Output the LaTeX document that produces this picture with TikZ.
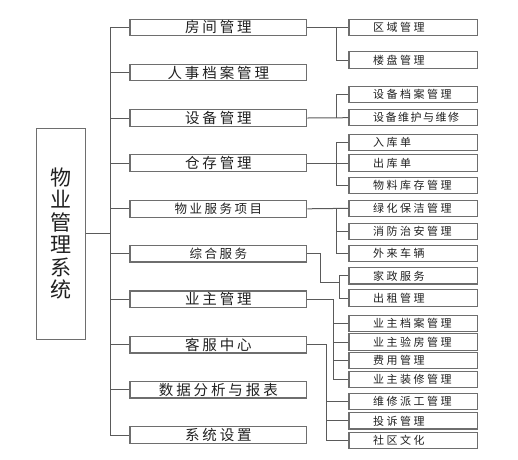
\documentclass[tikz,border=0pt]{standalone}
\usepackage{fontspec}
\newfontfamily\cjkbig[LetterSpace=20]{Noto Sans CJK SC}
\newfontfamily\cjksm[LetterSpace=20]{Noto Sans CJK SC}
\newfontfamily\cjkrt[LetterSpace=23]{Noto Sans CJK SC}
\newfontfamily\cjkrtn[LetterSpace=14]{Noto Sans CJK SC}
\newfontfamily\cjkroot{Noto Sans CJK SC}
\definecolor{boxc}{HTML}{6E6E6E}
\definecolor{linec}{HTML}{5A5A5A}
\definecolor{txt}{HTML}{202020}
\begin{document}
\begin{tikzpicture}[x=1pt,y=-1pt,
  conn/.style={draw=linec, line width=1pt},
  rootbox/.style={draw=boxc, line width=1.1pt, minimum width=49.5pt, minimum height=211pt, inner sep=0pt, align=center, text=txt, font=\cjkroot\fontsize{21}{22.5}\selectfont},
  midbox/.style={draw=boxc, line width=1.1pt, minimum width=176.7pt, minimum height=16.5pt, inner sep=0pt, text=txt, font=\cjkbig\fontsize{14.5}{15}\selectfont},
  midsmall/.style={midbox, font=\cjksm\fontsize{12.5}{13}\selectfont},
  rtbox/.style={draw=boxc, line width=1.1pt, minimum height=16.3pt, inner sep=0pt, text width=128.5pt, align=left, text=txt, font=\cjkrt\fontsize{11}{12}\selectfont},
  rtnarrow/.style={rtbox, font=\cjkrtn\fontsize{11}{12}\selectfont}
]
\useasboundingbox (0,0) rectangle (518,459);

% root
\node[rootbox] (root) at (61,233.7) {物\\业\\管\\理\\系\\统};

% middle column
\node[midbox]   (m1)  at (218.35,27.3)  {房间管理};
\node[midbox]   (m2)  at (218.35,72.5)  {人事档案管理};
\node[midbox]   (m3)  at (218.35,118)   {设备管理};
\node[midbox]   (m4)  at (218.35,163)   {仓存管理};
\node[midsmall] (m5)  at (218.35,208.8) {物业服务项目};
\node[midsmall] (m6)  at (218.35,253.7) {综合服务};
\node[midbox]   (m7)  at (218.35,299.2) {业主管理};
\node[midbox]   (m8)  at (218.35,344.7) {客服中心};
\node[midbox]   (m9)  at (218.35,389.7) {数据分析与报表};
\node[midbox]   (m10) at (218.35,435)   {系统设置};

% right column
\node[rtbox] (r1)  at (413.25,27.3)  {\hspace*{24pt}区域管理};
\node[rtbox] (r2)  at (413.25,60)    {\hspace*{24pt}楼盘管理};
\node[rtbox] (r3)  at (413.25,94.7)  {\hspace*{24pt}设备档案管理};
\node[rtnarrow] (r4)  at (413.25,117.7) {\hspace*{24pt}设备维护与维修};
\node[rtbox] (r5)  at (413.25,142.5) {\hspace*{24pt}入库单};
\node[rtbox] (r6)  at (413.25,163)   {\hspace*{24pt}出库单};
\node[rtbox] (r7)  at (413.25,185.7) {\hspace*{24pt}物料库存管理};
\node[rtbox] (r8)  at (413.25,208.3) {\hspace*{24pt}绿化保洁管理};
\node[rtbox] (r9)  at (413.25,231.5) {\hspace*{24pt}消防治安管理};
\node[rtbox] (r10) at (413.25,253.3) {\hspace*{24pt}外来车辆};
\node[rtbox] (r11) at (413.25,275.8) {\hspace*{24pt}家政服务};
\node[rtbox] (r12) at (413.25,298)   {\hspace*{24pt}出租管理};
\node[rtbox] (r13) at (413.25,323.4) {\hspace*{24pt}业主档案管理};
\node[rtbox] (r14) at (413.25,342)   {\hspace*{24pt}业主验房管理};
\node[rtbox] (r15) at (413.25,360.6) {\hspace*{24pt}费用管理};
\node[rtbox] (r16) at (413.25,379.2) {\hspace*{24pt}业主装修管理};
\node[rtbox] (r17) at (413.25,401.5) {\hspace*{24pt}维修派工管理};
\node[rtbox] (r18) at (413.25,420.8) {\hspace*{24pt}投诉管理};
\node[rtbox] (r19) at (413.25,440.6) {\hspace*{24pt}社区文化};

% guide coordinates
\coordinate (tx) at (110,0);
\coordinate (gx) at (336,0);
\coordinate (k6a) at (320.7,0);
\coordinate (k6b) at (339.3,282.5);
\coordinate (gx7) at (333,0);
\coordinate (gx8) at (326.5,0);

% trunk
\draw[conn] (root.east) -- (root.east -| tx);
\draw[conn] (m1.west -| tx) -- (m10.west -| tx);
\foreach \m in {m1,m2,m3,m4,m5,m6,m7,m8,m9,m10}
  \draw[conn] (\m.west) -- (\m.west -| tx);

% group 1
\draw[conn] (m1.east) -- (r1.west);
\draw[conn] (r1.west -| gx) |- (r2.west);
% group 3
\draw[conn] (m3.east) -- (r4.west);
\draw[conn] (r4.west -| gx) |- (r3.west);
% group 4
\draw[conn] (m4.east) -- (r6.west);
\draw[conn] (r5.west) -| (r7.west -| gx) -- (r7.west);
% group 5
\draw[conn] (m5.east) -- (r8.west);
\draw[conn] (r8.west -| gx) |- (r10.west);
\draw[conn] (r9.west) -- (r9.west -| gx);
% group 6
\draw[conn] (m6.east) -| (k6a |- k6b) -- (k6b);
\draw[conn] (r11.west) -| (r12.west -| k6b) -- (r12.west);
% group 7
\draw[conn] (m7.east) -| (r16.west -| gx7) -- (r16.west);
\foreach \r in {r13,r14,r15}
  \draw[conn] (\r.west) -- (\r.west -| gx7);
% group 8
\draw[conn] (m8.east) -| (r19.west -| gx8) -- (r19.west);
\foreach \r in {r17,r18}
  \draw[conn] (\r.west) -- (\r.west -| gx8);
\end{tikzpicture}
\end{document}
